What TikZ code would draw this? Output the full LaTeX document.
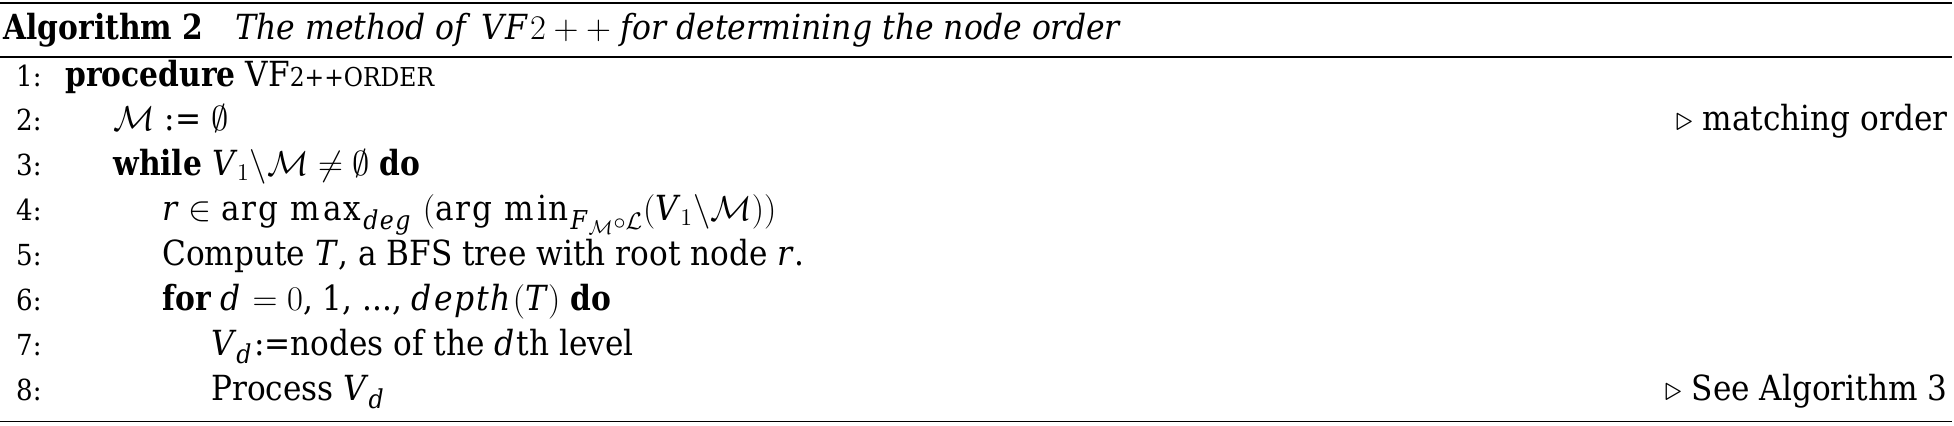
\documentclass[tikz,border=0pt]{standalone}
\usepackage{fontspec}
\setmainfont{DejaVu Serif}[UprightFeatures={FakeStretch=0.90},BoldFeatures={FakeStretch=0.86},ItalicFeatures={FakeStretch=0.91}]
\DeclareMathSizes{17.3}{17.3}{13}{10}
\newcommand{\lnum}[1]{{\fontsize{14.5}{17}\selectfont #1:}}
\newcommand{\smallcapsf}[1]{{\fontsize{13}{15}\selectfont #1}}
\newcommand{\mv}[1]{\mathit{#1}}
\begin{document}
\begin{tikzpicture}[x=0.5pt,y=-0.5pt,inner sep=0pt,
  font=\fontsize{17.3}{21}\selectfont]
   \useasboundingbox (0,0) rectangle (1954,425);
   % rules of the float
   \draw[line width=1.1pt] (0,3)--(1952,3);
   \draw[line width=0.6pt] (0,57)--(1952,57);
   \draw[line width=0.6pt] (0,421.5)--(1952,421.5);
   % caption
   \node (cap) [anchor=base west] at (3,39) {\textbf{Algorithm 2}};
   \node (captext) [anchor=base west] at (235,39) {\textit{The method of} $\mv{VF}2 + +$ \textit{for determining the node order}};
   % line numbers
   \node (n1) [anchor=base east] at (42,86) {\lnum{1}};
   \node (n2) [anchor=base east] at (42,130.9) {\lnum{2}};
   \node (n3) [anchor=base east] at (42,175.8) {\lnum{3}};
   \node (n4) [anchor=base east] at (42,220.7) {\lnum{4}};
   \node (n5) [anchor=base east] at (42,265.6) {\lnum{5}};
   \node (n6) [anchor=base east] at (42,310.5) {\lnum{6}};
   \node (n7) [anchor=base east] at (42,355.4) {\lnum{7}};
   \node (n8) [anchor=base east] at (42,400.3) {\lnum{8}};
   % body
   \node (l1) [anchor=base west] at (65,86) {\textbf{procedure} VF\smallcapsf{2++ORDER}};
   \node (l2) [anchor=base west] at (113,130.9) {$\mathcal{M}$ := $\emptyset$};
   \node (l3) [anchor=base west] at (113,175.8) {\textbf{while} $\mv{V}_1\backslash\mathcal{M} \neq \emptyset$ \textbf{do}};
   \node (l4) [anchor=base west] at (162,220.7) {$\mv{r} \in \mathrm{arg\ max}_{\mv{deg}}$ $(\mathrm{arg\ min}_{\mv{F}_{\mathcal{M}}\circ\mathcal{L}}(\mv{V}_1\backslash\mathcal{M}))$};
   \node (l5) [anchor=base west] at (162,265.6) {Compute $\mv{T}$, a BFS tree with root node $\mv{r}$.};
   \node (l6) [anchor=base west] at (162,310.5) {\textbf{for} $\mv{d} = 0$, 1, ..., $\mv{depth}(\mv{T})$ \textbf{do}};
   \node (l7) [anchor=base west] at (211,355.4) {$\mv{V}_{\mv{d}}$:=nodes of the $\mv{d}$th level};
   \node (l8) [anchor=base west] at (211,400.3) {Process $\mv{V}_{\mv{d}}$};
   % comments
   \node (c2) [anchor=base east] at (1948,130.9) {$\triangleright$ matching order};
   \node (c8) [anchor=base east] at (1948,400.3) {$\triangleright$ See Algorithm 3};
 \end{tikzpicture}
\end{document}
